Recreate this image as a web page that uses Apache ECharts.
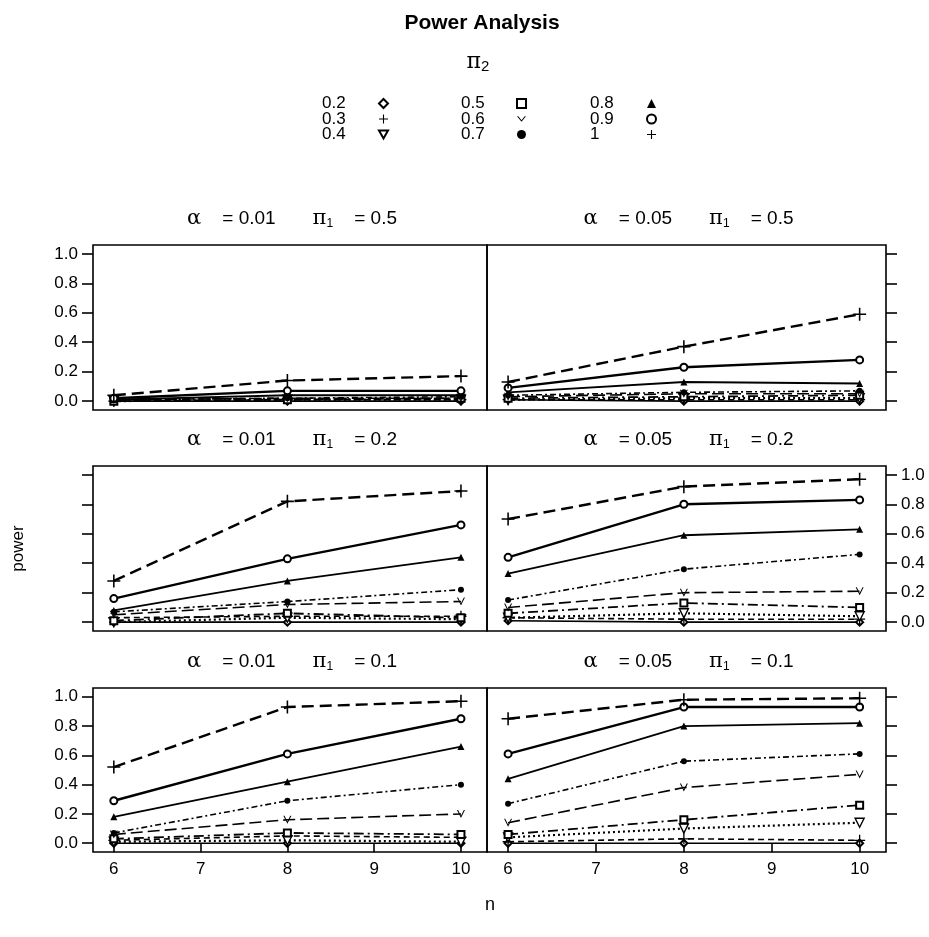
<!DOCTYPE html>
<html>
<head>
<meta charset="utf-8">
<title>Power Analysis</title>
<script src="https://cdn.jsdelivr.net/npm/echarts@6/dist/echarts.min.js"></script>
<style>
  html, body { margin: 0; padding: 0; background: #fff; }
  #main { width: 929px; height: 937px; }
</style>
</head>
<body>
<div id="main"></div>
<script>
// x values (sample size n) and the pi2 groups
var nValues = [6, 8, 10];
var pi2Levels = ['0.2', '0.3', '0.4', '0.5', '0.6', '0.7', '0.8', '0.9', '1'];
var xTicks = [6, 7, 8, 9, 10];
var yTicks = [0, 0.2, 0.4, 0.6, 0.8, 1.0];

// power per pi2 level (same order as pi2Levels), values at n = 6, 8, 10
var powerA01P05 = [
  [0.00, 0.00, 0.00], [0.00, 0.01, 0.01], [0.00, 0.01, 0.01],
  [0.00, 0.01, 0.02], [0.01, 0.02, 0.02], [0.01, 0.02, 0.03],
  [0.01, 0.04, 0.04], [0.02, 0.07, 0.07], [0.04, 0.14, 0.17]
];
var powerA05P05 = [
  [0.01, 0.00, 0.00], [0.01, 0.01, 0.01], [0.01, 0.02, 0.02],
  [0.02, 0.03, 0.04], [0.03, 0.05, 0.05], [0.04, 0.06, 0.07],
  [0.06, 0.13, 0.12], [0.09, 0.23, 0.28], [0.13, 0.37, 0.59]
];
var powerA01P02 = [
  [0.00, 0.00, 0.00], [0.03, 0.04, 0.04], [0.00, 0.03, 0.02],
  [0.01, 0.06, 0.03], [0.05, 0.12, 0.14], [0.07, 0.14, 0.22],
  [0.08, 0.28, 0.44], [0.16, 0.43, 0.66], [0.28, 0.82, 0.89]
];
var powerA05P02 = [
  [0.01, 0.00, 0.00], [0.03, 0.02, 0.02], [0.03, 0.06, 0.04],
  [0.06, 0.13, 0.10], [0.10, 0.20, 0.21], [0.15, 0.36, 0.46],
  [0.33, 0.59, 0.63], [0.44, 0.80, 0.83], [0.70, 0.92, 0.97]
];
var powerA01P01 = [
  [0.00, 0.00, 0.00], [0.02, 0.05, 0.04], [0.01, 0.02, 0.01],
  [0.03, 0.07, 0.06], [0.06, 0.16, 0.20], [0.07, 0.29, 0.40],
  [0.18, 0.42, 0.66], [0.29, 0.61, 0.85], [0.52, 0.93, 0.97]
];
var powerA05P01 = [
  [0.00, 0.00, 0.00], [0.01, 0.03, 0.02], [0.04, 0.10, 0.14],
  [0.06, 0.16, 0.26], [0.14, 0.38, 0.47], [0.27, 0.56, 0.61],
  [0.44, 0.80, 0.82], [0.61, 0.93, 0.93], [0.85, 0.98, 0.99]
];

var FONT = '"Liberation Sans", Arial, Helvetica, sans-serif';
var PLUS = 'path://M4.4,0 H5.6 V4.4 H10 V5.6 H5.6 V10 H4.4 V5.6 H0 V4.4 H4.4 Z';
var TRI_DOWN = 'path://M0,0 L10,0 L5,8.7 Z';
var CHEVRON = 'path://M0,0 L5,6 L10,0 L8.6,0 L5,4.3 L1.4,0 Z';

// symbol + line look of each pi2 group
var looks = {
  '0.2': { symbol: 'emptyDiamond', size: 7, dash: 'solid', width: 1.6 },
  '0.3': { symbol: PLUS, size: 11, dash: [6, 4], width: 1.6 },
  '0.4': { symbol: TRI_DOWN, size: 9, dash: [2, 3], width: 2.2, hollow: true },
  '0.5': { symbol: 'emptyRect', size: 7, dash: [10, 4, 2, 4], width: 1.8 },
  '0.6': { symbol: CHEVRON, size: 8, dash: [12, 5], width: 1.6 },
  '0.7': { symbol: 'circle', size: 6, dash: [6, 3, 2, 3], width: 1.6 },
  '0.8': { symbol: 'triangle', size: 7, dash: 'solid', width: 1.8 },
  '0.9': { symbol: 'emptyCircle', size: 7, dash: 'solid', width: 2.4 },
  '1':   { symbol: PLUS, size: 13, dash: [12, 6], width: 2.4 }
};

// panels: row by row, left column then right column
var panels = [
  { data: powerA01P05, alpha: '0.01', pi1: '0.5' },
  { data: powerA05P05, alpha: '0.05', pi1: '0.5' },
  { data: powerA01P02, alpha: '0.01', pi1: '0.2' },
  { data: powerA05P02, alpha: '0.05', pi1: '0.2' },
  { data: powerA01P01, alpha: '0.01', pi1: '0.1' },
  { data: powerA05P01, alpha: '0.05', pi1: '0.1' }
];
var rowTop = [245, 466, 688];
var rowHeight = [165, 165, 164];
var colLeft = [93, 487];
var colWidth = [394, 399];

var grids = [], xAxes = [], yAxes = [], series = [], graphics = [];

panels.forEach(function (p, i) {
  var row = Math.floor(i / 2), col = i % 2;
  grids.push({
    left: colLeft[col], top: rowTop[row], width: colWidth[col], height: rowHeight[row],
    show: true, borderColor: '#000', borderWidth: 1.6, backgroundColor: 'transparent',
    containLabel: false, outerBoundsMode: 'none'
  });
  var bottomRow = row === 2;
  xAxes.push({
    type: 'value', gridIndex: i, min: 5.76, max: 10.3,
    axisLine: { show: false }, splitLine: { show: false },
    axisTick: { show: bottomRow, length: 9, customValues: xTicks, lineStyle: { color: '#000', width: 1.6 } },
    axisLabel: { show: bottomRow, customValues: xTicks, margin: 9, fontSize: 17, color: '#000', fontFamily: FONT }
  });
  // labels alternate: left in rows 1 and 3, right in row 2
  var withLabels = (col === 0 && row !== 1) || (col === 1 && row === 1);
  yAxes.push({
    type: 'value', gridIndex: i, min: -0.06, max: 1.06, position: col === 0 ? 'left' : 'right',
    axisLine: { show: false }, splitLine: { show: false },
    axisTick: { show: true, length: 11, customValues: yTicks, lineStyle: { color: '#000', width: 1.6 } },
    axisLabel: {
      show: withLabels, customValues: yTicks, margin: 15, fontSize: 17, color: '#000', fontFamily: FONT,
      formatter: function (v) { return v.toFixed(1); }
    },
    name: i === 2 ? 'power' : '', nameLocation: 'middle', nameGap: 66, nameRotate: 90,
    nameTextStyle: { fontSize: 17, color: '#000', fontFamily: FONT }
  });
  pi2Levels.forEach(function (lvl, k) {
    var lk = looks[lvl];
    series.push({
      name: lvl, type: 'line', xAxisIndex: i, yAxisIndex: i,
      data: nValues.map(function (n, j) { return [n, p.data[k][j]]; }),
      symbol: lk.symbol, symbolSize: lk.size, showSymbol: true,
      lineStyle: { color: '#000', width: lk.width, type: lk.dash },
      itemStyle: lk.hollow ? { color: '#fff', borderColor: '#000', borderWidth: 1.4 } : { color: '#000' },
      emphasis: { disabled: true }, z: 3
    });
  });
  // strip title above each panel
  graphics.push({
    type: 'text', x: colLeft[col] + colWidth[col] / 2 + 2, y: rowTop[row] - 26,
    style: {
      text: '{g|\u03b1}    = ' + p.alpha + '       {p|\u03c0}{s|1}    = ' + p.pi1,
      align: 'center', verticalAlign: 'middle', fill: '#000', font: '19px ' + FONT,
      rich: {
        g: { fontSize: 21, fontFamily: '"DejaVu Serif", serif' },
        p: { fontSize: 21, fontFamily: '"DejaVu Serif", serif' },
        s: { fontSize: 12, padding: [10, 0, 0, 0], fontFamily: FONT }
      }
    }
  });
});

graphics.push({
  type: 'text', x: 482, y: 23,
  style: { text: 'Power Analysis', align: 'center', verticalAlign: 'middle', fill: '#000', font: 'bold 21px ' + FONT }
});
graphics.push({
  type: 'text', x: 478, y: 62,
  style: {
    text: '{p|\u03c0}{s|2}', align: 'center', verticalAlign: 'middle', fill: '#000',
    rich: { p: { fontSize: 22, fontFamily: '"DejaVu Serif", serif' }, s: { fontSize: 15, padding: [10, 0, 0, 0], fontFamily: FONT } }
  }
});
graphics.push({
  type: 'text', x: 490, y: 905,
  style: { text: 'n', align: 'center', verticalAlign: 'middle', fill: '#000', font: '18px ' + FONT }
});

// three legend columns, label on the left, symbol on the right
var legendLeft = [322, 461, 590];
var legendTextWidth = [52, 51, 52];
var legends = [0, 1, 2].map(function (c) {
  return {
    orient: 'vertical', left: legendLeft[c], top: 95, align: 'right', padding: 0,
    itemWidth: 9, itemHeight: 9, itemGap: -1.5, selectedMode: false,
    data: pi2Levels.slice(c * 3, c * 3 + 3).map(function (name) {
      return { name: name, icon: looks[name].symbol };
    }),
    formatter: function (name) { return '{t|' + name + '}'; },
    textStyle: {
      color: '#000', fontSize: 17, lineHeight: 14, fontFamily: FONT,
      rich: { t: { width: legendTextWidth[c], align: 'left', fontSize: 17, lineHeight: 14, fontFamily: FONT } }
    }
  };
});

var chart = echarts.init(document.getElementById('main'));
chart.setOption({
  animation: false,
  backgroundColor: '#fff',
  grid: grids,
  xAxis: xAxes,
  yAxis: yAxes,
  legend: legends,
  series: series,
  graphic: graphics
});
</script>
</body>
</html>
